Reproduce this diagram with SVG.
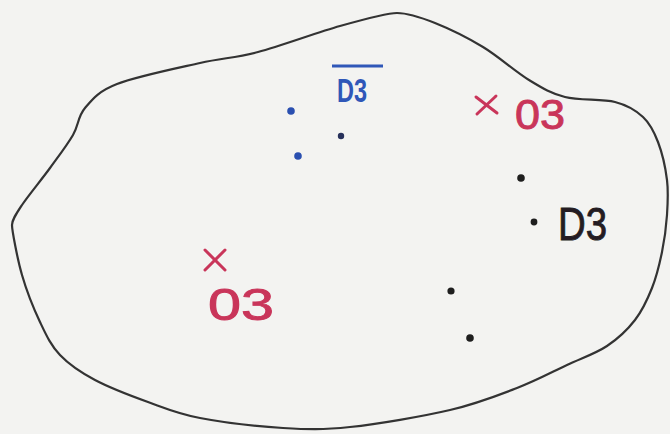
<svg xmlns="http://www.w3.org/2000/svg" width="670" height="434" viewBox="0 0 670 434">
<style>
.outline{fill:none;stroke:#333;stroke-width:2.2;stroke-linecap:round;stroke-linejoin:round}
.red{fill:#c9355a;stroke:#c9355a;stroke-width:0.9;font-family:"Liberation Sans",Arial,sans-serif}
.blue{fill:#2f57b8;font-family:"Liberation Sans",Arial,sans-serif;font-weight:bold}
.blk{fill:#241c22;stroke:#241c22;stroke-width:0.9;font-family:"Liberation Sans",Arial,sans-serif}
.dot-b{fill:#2a4fb0}
.dot-k{fill:#1e1e1e}
.x{stroke:#c9355a;stroke-width:3;stroke-linecap:round}
</style>
<rect width="670" height="434" fill="#f3f3f1"/>
<path class="outline" d="M397,13 C405,13 420.7,17.3 435,23 C449.3,28.7 467.3,37.5 483,47 C498.7,56.5 515.3,71.7 529,80 C542.7,88.3 550.7,93.3 565,97 C579.3,100.7 602,98.7 615,102 C628,105.3 635.8,110.3 643,117 C650.2,123.7 654,131.5 658,142 C662,152.5 665.5,167.8 667,180 C668.5,192.2 667.8,203 667,215 C666.2,227 664.5,239.8 662,252 C659.5,264.2 656.5,276.7 652,288 C647.5,299.3 642.5,310.3 635,320 C627.5,329.7 618.3,338.5 607,346 C595.7,353.5 582,358 567,365 C552,372 536.5,380.5 517,388 C497.5,395.5 477.8,403.5 450,410 C422.2,416.5 377.8,424 350,427 C322.2,430 308,429.5 283,428 C258,426.5 222.5,422.3 200,418 C177.5,413.7 165.5,408.3 148,402 C130.5,395.7 109.7,387.8 95,380 C80.3,372.2 69.2,364.7 60,355 C50.8,345.3 46.3,335.3 40,322 C33.7,308.7 26.7,291.2 22,275 C17.3,258.8 12,230 12,225 C12,220 15.7,214.5 22,205 C28.3,195.5 41.5,179.7 50,168 C58.5,156.3 67.2,145 73,135 C78.8,125 77.7,116.5 85,108 C92.3,99.5 97.8,91.5 117,84 C136.2,76.5 176.5,68.3 200,63 C223.5,57.7 234.7,58.2 258,52 C281.3,45.8 316.8,32.5 340,26 C363.2,19.5 389,13 397,13 Z"/>
<g id="blue-group">
<circle class="dot-b" cx="291" cy="111" r="3.8"/>
<circle class="dot-b" cx="298" cy="156" r="3.8"/>
<circle cx="341" cy="136" r="3.2" fill="#26305a"/>
<line x1="332" y1="66" x2="383" y2="66" stroke="#2f57b8" stroke-width="3"/>
<text class="blue" x="337" y="102" font-size="34" textLength="30" lengthAdjust="spacingAndGlyphs">D3</text>
</g>
<g id="red-top">
<line class="x" x1="476" y1="97" x2="497" y2="113"/>
<line class="x" x1="496" y1="96" x2="477" y2="114"/>
<text class="red" x="515" y="129" font-size="42" textLength="50" lengthAdjust="spacingAndGlyphs">03</text>
</g>
<g id="black-group">
<circle class="dot-k" cx="521" cy="178" r="3.8"/>
<circle class="dot-k" cx="534" cy="222" r="3.4"/>
<text class="blk" x="558" y="240" font-size="46" textLength="49" lengthAdjust="spacingAndGlyphs">D3</text>
<circle class="dot-k" cx="451" cy="291" r="3.6"/>
<circle class="dot-k" cx="470" cy="338" r="3.8"/>
</g>
<g id="red-left">
<line class="x" x1="205" y1="250" x2="225" y2="270"/>
<line class="x" x1="225" y1="250" x2="205" y2="270"/>
<text class="red" x="208" y="320" font-size="44" textLength="66" lengthAdjust="spacingAndGlyphs">03</text>
</g>
</svg>
